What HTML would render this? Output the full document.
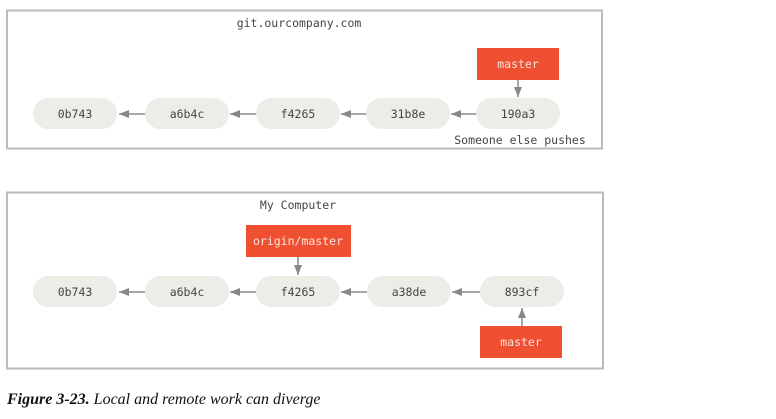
<!DOCTYPE html>
<html><head><meta charset="utf-8"><style>
html,body{margin:0;padding:0;background:#fff;}
svg{display:block;}
.m{font-family:"DejaVu Sans Mono","Liberation Mono",monospace;font-size:11.5px;}
</style></head><body>
<svg width="776" height="419" viewBox="0 0 776 419" xmlns="http://www.w3.org/2000/svg">
<defs>
<marker id="a" markerWidth="10" markerHeight="8" refX="10" refY="4" orient="auto" markerUnits="userSpaceOnUse">
<path d="M0,0 L10,4 L0,8 Z" fill="#888"/>
</marker>
</defs>
<rect x="7" y="10.5" width="595" height="138" fill="#fff" stroke="#bbb" stroke-width="2"/>
<rect x="7" y="192.5" width="596" height="176" fill="#fff" stroke="#bbb" stroke-width="2"/>
<g class="m" fill="#444" text-anchor="middle">
<text x="299" y="27">git.ourcompany.com</text>
<text x="298" y="209">My Computer</text>
<text x="520" y="144">Someone else pushes</text>
</g>
<g fill="#eeece7">
<rect x="33" y="98" width="84" height="31" rx="15.5"/>
<rect x="145" y="98" width="84" height="31" rx="15.5"/>
<rect x="256" y="98" width="84" height="31" rx="15.5"/>
<rect x="366" y="98" width="84" height="31" rx="15.5"/>
<rect x="476" y="98" width="84" height="31" rx="15.5"/>
<rect x="33" y="276" width="84" height="31" rx="15.5"/>
<rect x="145" y="276" width="84" height="31" rx="15.5"/>
<rect x="256" y="276" width="84" height="31" rx="15.5"/>
<rect x="367" y="276" width="84" height="31" rx="15.5"/>
<rect x="480" y="276" width="84" height="31" rx="15.5"/>
</g>
<g fill="#f05032">
<rect x="477" y="48" width="82" height="32"/>
<rect x="246" y="225" width="105" height="32"/>
<rect x="480" y="326" width="82" height="32"/>
</g>
<g stroke="#888" stroke-width="1.5" fill="none">
<line x1="145" y1="114" x2="119" y2="114" marker-end="url(#a)"/>
<line x1="256" y1="114" x2="230" y2="114" marker-end="url(#a)"/>
<line x1="366" y1="114" x2="341" y2="114" marker-end="url(#a)"/>
<line x1="476" y1="114" x2="451" y2="114" marker-end="url(#a)"/>
<line x1="518" y1="80" x2="518" y2="97" marker-end="url(#a)"/>
<line x1="145" y1="292" x2="119" y2="292" marker-end="url(#a)"/>
<line x1="256" y1="292" x2="230" y2="292" marker-end="url(#a)"/>
<line x1="367" y1="292" x2="341" y2="292" marker-end="url(#a)"/>
<line x1="480" y1="292" x2="452" y2="292" marker-end="url(#a)"/>
<line x1="298" y1="257" x2="298" y2="275" marker-end="url(#a)"/>
<line x1="522" y1="326" x2="522" y2="308" marker-end="url(#a)"/>
</g>
<g class="m" fill="#444" text-anchor="middle">
<text x="75" y="118">0b743</text>
<text x="187" y="118">a6b4c</text>
<text x="298" y="118">f4265</text>
<text x="408" y="118">31b8e</text>
<text x="518" y="118">190a3</text>
<text x="75" y="296">0b743</text>
<text x="187" y="296">a6b4c</text>
<text x="298" y="296">f4265</text>
<text x="409" y="296">a38de</text>
<text x="522" y="296">893cf</text>
</g>
<g class="m" fill="#fbe3dc" text-anchor="middle">
<text x="518" y="68">master</text>
<text x="298" y="245">origin/master</text>
<text x="521" y="346">master</text>
</g>
<text x="7" y="404" font-family="Liberation Serif,serif" font-size="16" font-style="italic" fill="#111"><tspan font-weight="bold">Figure 3-23.</tspan>  Local and remote work can diverge</text>
</svg>
</body></html>
